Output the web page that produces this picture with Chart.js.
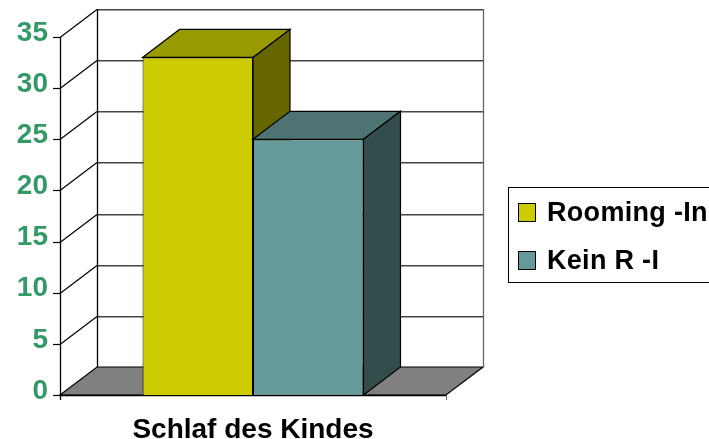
<!DOCTYPE html>
<html><head><meta charset="utf-8">
<style>html,body{margin:0;padding:0;background:#fff}#w{width:709px;height:439px;position:relative}</style>
<script src="https://cdn.jsdelivr.net/npm/chart.js@4"></script></head>
<body><div id="w"><canvas id="c" width="709" height="439"></canvas></div>
<script>
const categories = ["Schlaf des Kindes"];
const seriesNames = ["Rooming -In", "Kein R -I"];
const roomingIn = [33];
const keinRI = [25];
const yTicks = [0, 5, 10, 15, 20, 25, 30, 35];
const DX = 37, DY = -28;
const poly = (ctx, pts, fill, stroke) => {
  ctx.beginPath();
  pts.forEach((p, i) => i ? ctx.lineTo(p[0], p[1]) : ctx.moveTo(p[0], p[1]));
  ctx.closePath();
  if (fill) { ctx.fillStyle = fill; ctx.fill(); }
  if (stroke) { ctx.strokeStyle = stroke; ctx.lineWidth = 1.2; ctx.stroke(); }
};
const line = (ctx, x1, y1, x2, y2, color, w) => {
  ctx.beginPath(); ctx.moveTo(x1, y1); ctx.lineTo(x2, y2);
  ctx.strokeStyle = color; ctx.lineWidth = w || 1; ctx.stroke();
};
const shade = [
  { top: "#999900", side: "#666600" },
  { top: "#4D7373", side: "#334D4D" }
];
let manual = false;
const box3d = {
  id: "box3d",
  beforeDatasetsDraw(chart) {
    const { ctx, scales: { y }, chartArea: a } = chart;
    ctx.save();
    const L = a.left, R = a.right, B = y.getPixelForValue(0);
    poly(ctx, [[L, B], [L + DX, B + DY], [R + DX, B + DY], [R, B]], "#808080", "#000");
    yTicks.forEach(v => {
      const p = Math.round(y.getPixelForValue(v)) + 0.5;
      if (v > 0) {
        line(ctx, L, p, L + DX, p + DY, "#000", 1.2);
        line(ctx, L + DX, p + DY + 0.25, R + DX, p + DY + 0.25, "#444", 1.5);
      }
      line(ctx, L - 7, p, L, p, "#000", 1.2);
    });
    const T = y.getPixelForValue(35);
    line(ctx, L + 0.5, T, L + 0.5, B + 5, "#000", 1.3);
    line(ctx, L + DX + 0.5, T + DY, L + DX + 0.5, B + DY, "#000", 1.3);
    line(ctx, R + DX + 0.5, T + DY, R + DX + 0.5, B + DY, "#666", 1.3);
    line(ctx, L, B + 0.5, R, B + 0.5, "#000", 1.5);
    line(ctx, R + 0.5, B, R + 0.5, B + 5, "#666");
    ctx.restore();
  },
  beforeDatasetDraw() { return manual; },
  afterDatasetsDraw(chart) {
    const { ctx } = chart;
    manual = true;
    chart.data.datasets.forEach((d, i) => {
      const meta = chart.getDatasetMeta(i), s = shade[i];
      meta.controller.draw();
      meta.data.forEach(b => {
        const l = b.x - b.width / 2, r = b.x + b.width / 2, t = b.y, bot = b.base;
        ctx.save();
        poly(ctx, [[l, t], [l + DX, t + DY], [r + DX, t + DY], [r, t]], s.top, "#000");
        poly(ctx, [[r, t], [r + DX, t + DY], [r + DX, bot + DY], [r, bot]], s.side, "#000");
        ctx.restore();
      });
    });
    manual = false;
  },
  afterDraw(chart) {
    const { ctx } = chart;
    ctx.save();
    ctx.fillStyle = "#fff";
    ctx.fillRect(508.5, 187.5, 210, 95);
    ctx.strokeStyle = "#000"; ctx.lineWidth = 1;
    ctx.strokeRect(508.5, 187.5, 210, 95);
    const rows = [212.5, 260.5];
    chart.data.datasets.forEach((d, i) => {
      ctx.fillStyle = d.backgroundColor;
      ctx.fillRect(518.5, rows[i] - 9, 17, 18);
      ctx.strokeRect(518.5, rows[i] - 9, 17, 18);
      ctx.fillStyle = "#000";
      ctx.font = "bold 27px 'Liberation Sans'";
      ctx.letterSpacing = "0.3px";
      ctx.textAlign = "left"; ctx.textBaseline = "middle";
      ctx.fillText(d.label, 547, rows[i] + 1);
    });
    ctx.restore();
  }
};
new Chart(document.getElementById("c"), {
  type: "bar",
  data: {
    labels: categories,
    datasets: [
      { label: seriesNames[0], data: roomingIn, backgroundColor: "#CCCC00", borderColor: "#000", borderWidth: 1 },
      { label: seriesNames[1], data: keinRI, backgroundColor: "#669999", borderColor: "#000", borderWidth: 1 }
    ]
  },
  plugins: [box3d],
  options: {
    responsive: false, animation: false,
    layout: { padding: { top: 37, right: 263, left: 0, bottom: 0 } },
    plugins: { legend: { display: false }, tooltip: { enabled: false } },
    datasets: { bar: { categoryPercentage: 0.5725, barPercentage: 1 } },
    scales: {
      x: {
        grid: { display: false }, border: { display: false },
        ticks: { color: "#000", font: { family: "'Liberation Sans'", size: 28, weight: "bold" }, padding: 10 },
        afterFit(s) { s.height = 44; }
      },
      y: {
        min: 0, max: 35,
        grid: { display: false }, border: { display: false },
        afterBuildTicks(s) { s.ticks = yTicks.map(v => ({ value: v })); },
        ticks: { color: "#339966", font: { family: "'Liberation Sans'", size: 28, weight: "bold" }, padding: 4, labelOffset: -4 },
        afterFit(s) { s.width = 60; }
      }
    }
  }
});
</script></body></html>
